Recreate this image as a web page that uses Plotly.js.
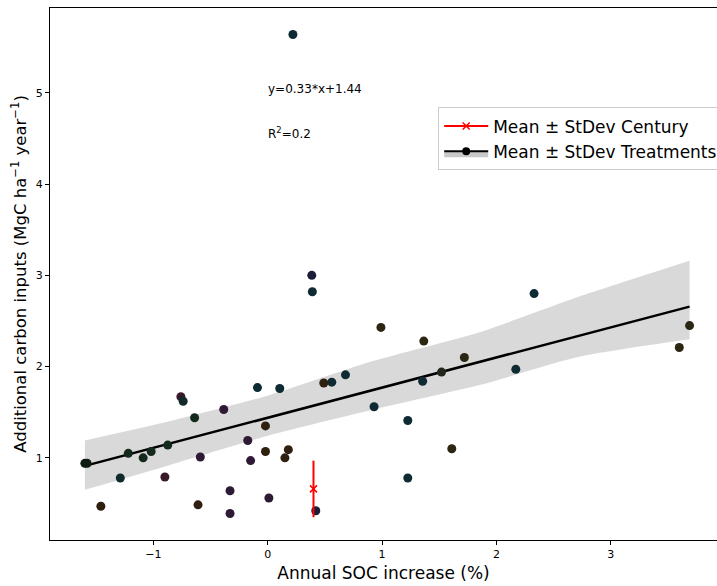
<!DOCTYPE html>
<html>
<head>
<meta charset="utf-8">
<script src="https://cdn.plot.ly/plotly-3.0.1.min.js"></script>
<style>html,body{margin:0;padding:0;background:#fff;}#chart{width:717px;height:586px;}</style>
</head>
<body>
<div id="chart"></div>
<script>
// Treatment points: annual SOC increase (%) vs additional carbon inputs
const socIncrease = [0.22, 0.385, 0.39, 2.33, 3.69, 0.99, 1.365, 3.60, 1.72, 1.52, 2.17, 0.68, 0.56, 0.49, 1.355,
  -0.09, 0.105, 0.93, -0.76, -0.74, -0.385, -0.64, 1.225, -0.02, -0.175, -0.875, -1.22, -1.02, -1.09, -1.60, -1.58,
  -0.02, 0.18, 0.15, -0.15, -0.59, 1.61, -0.90, -1.29, -0.33, 0.01, -1.46, -0.61, -0.33, 0.42, 1.225];
const carbonInputs = [5.64, 3.00, 2.82, 2.80, 2.45, 2.43, 2.28, 2.21, 2.10, 1.94, 1.97, 1.91, 1.83, 1.82, 1.84,
  1.77, 1.76, 1.56, 1.67, 1.62, 1.53, 1.44, 1.41, 1.35, 1.19, 1.14, 1.05, 1.07, 1.00, 0.94, 0.94,
  1.07, 1.09, 1.00, 0.97, 1.01, 1.10, 0.79, 0.78, 0.64, 0.56, 0.47, 0.485, 0.39, 0.42, 0.78];

// Century model mean and standard deviation
const centuryX = [0.40];
const centuryY = [0.66];
const centurySd = [0.31];

// Regression fit and its confidence band
const fitSlope = 0.33;
const fitIntercept = 1.44;
const fitX = [-1.60, 3.69];
const bandX = [-1.60, -0.86, 0.02, 0.89, 1.86, 2.73, 3.69];
const bandUpper = [1.19, 1.40, 1.69, 2.05, 2.38, 2.77, 3.16];
const bandLower = [0.65, 0.92, 1.25, 1.52, 1.80, 2.11, 2.30];

const equationText = 'y=0.33*x+1.44';
const r2Text = 'R<sup>2</sup>=0.2';
const xTicks = [-1, 0, 1, 2, 3];
const yTicks = [1, 2, 3, 4, 5];

// styles
const TEAL = '#0e2a33', NAVY = '#1e1d38', OLIVE = '#2a2612', BROWN = '#2e1f0f',
      PURPLE = '#2e1a35', GREEN = '#13291c', MAROON = '#381a2a', BLK = '#0f1c12';
const pointColors = [TEAL, NAVY, TEAL, TEAL, OLIVE, OLIVE, OLIVE, OLIVE, OLIVE, '#22261a', TEAL, TEAL, TEAL, BROWN, TEAL,
  TEAL, TEAL, TEAL, MAROON, '#102b2a', PURPLE, GREEN, TEAL, BROWN, PURPLE, GREEN, GREEN, GREEN, GREEN, BLK, BLK,
  BROWN, BROWN, BROWN, PURPLE, PURPLE, OLIVE, MAROON, '#0f2a2a', PURPLE, PURPLE, BROWN, BROWN, PURPLE, NAVY, TEAL];

const FONT = 'DejaVu Sans, sans-serif';

const traces = [
  {x: bandX, y: bandLower, mode: 'lines', line: {width: 0, color: 'rgba(0,0,0,0)', shape: 'spline', smoothing: 0.6}, showlegend: false, hoverinfo: 'skip'},
  {x: bandX, y: bandUpper, mode: 'lines', line: {width: 0, color: 'rgba(0,0,0,0)', shape: 'spline', smoothing: 0.6}, fill: 'tonexty',
   fillcolor: '#d9d9d9', showlegend: false, hoverinfo: 'skip'},
  {x: fitX, y: fitX.map(v => fitSlope * v + fitIntercept), mode: 'lines', line: {color: '#000', width: 2.5}, showlegend: false},
  {x: socIncrease, y: carbonInputs, mode: 'markers', marker: {size: 9, color: pointColors}, showlegend: false},
  {x: centuryX, y: centuryY, mode: 'lines+markers', name: 'Mean ± StDev Century',
   line: {color: '#ff0000', width: 2},
   marker: {symbol: 'x-thin', size: 7, line: {color: '#ff0000', width: 1.5}, color: '#ff0000'},
   error_y: {type: 'data', array: centurySd, visible: true, color: '#ff0000', thickness: 2, width: 0}},
  {x: [null], y: [null], mode: 'lines+markers', name: 'Mean ± StDev Treatments', fill: 'toself', fillcolor: '#c8c8c8',
   line: {color: '#000', width: 2}, marker: {size: 8, color: '#000'}}
];

const layout = {
  width: 717, height: 586,
  margin: {l: 50, r: 0, t: 8, b: 46, autoexpand: false},
  paper_bgcolor: '#fff', plot_bgcolor: '#fff',
  font: {family: FONT, color: '#000', size: 11},
  showlegend: true,
  legend: {x: 0.582, y: 0.813, xanchor: 'left', yanchor: 'top', bgcolor: '#fff', bordercolor: '#cccccc', borderwidth: 1,
    traceorder: 'normal', itemwidth: 44, font: {family: FONT, size: 17, color: '#000'}, tracegroupgap: 2},
  xaxis: {range: [-1.905, 3.93], tickvals: xTicks, ticks: 'outside', ticklen: 4, tickwidth: 1, tickcolor: '#000',
    showgrid: false, zeroline: false, showline: true, linecolor: '#000', linewidth: 1, mirror: true,
    tickfont: {family: FONT, size: 11, color: '#000'},
    title: {text: 'Annual SOC increase (%)', font: {family: FONT, size: 17, color: '#000'}, standoff: 6}},
  yaxis: {range: [0.10, 5.93], tickvals: yTicks, ticks: 'outside', ticklen: 4, tickwidth: 1, tickcolor: '#000',
    showgrid: false, zeroline: false, showline: true, linecolor: '#000', linewidth: 1, mirror: true,
    tickfont: {family: FONT, size: 11, color: '#000'},
    title: {text: 'Additional carbon inputs (MgC ha<sup>−1</sup> year<sup>−1</sup>)', font: {family: FONT, size: 16.5, color: '#000'}, standoff: 5}},
  annotations: [
    {x: 0, y: 5.04, xref: 'x', yref: 'y', xshift: -2, text: equationText, showarrow: false, xanchor: 'left', yanchor: 'middle',
     font: {family: FONT, size: 12, color: '#000'}},
    {x: 0, y: 4.56, xref: 'x', yref: 'y', xshift: -2, text: r2Text, showarrow: false, xanchor: 'left', yanchor: 'middle',
     font: {family: FONT, size: 12, color: '#000'}}
  ]
};

Plotly.newPlot('chart', traces, layout, {displayModeBar: false, staticPlot: true});
</script>
</body>
</html>
